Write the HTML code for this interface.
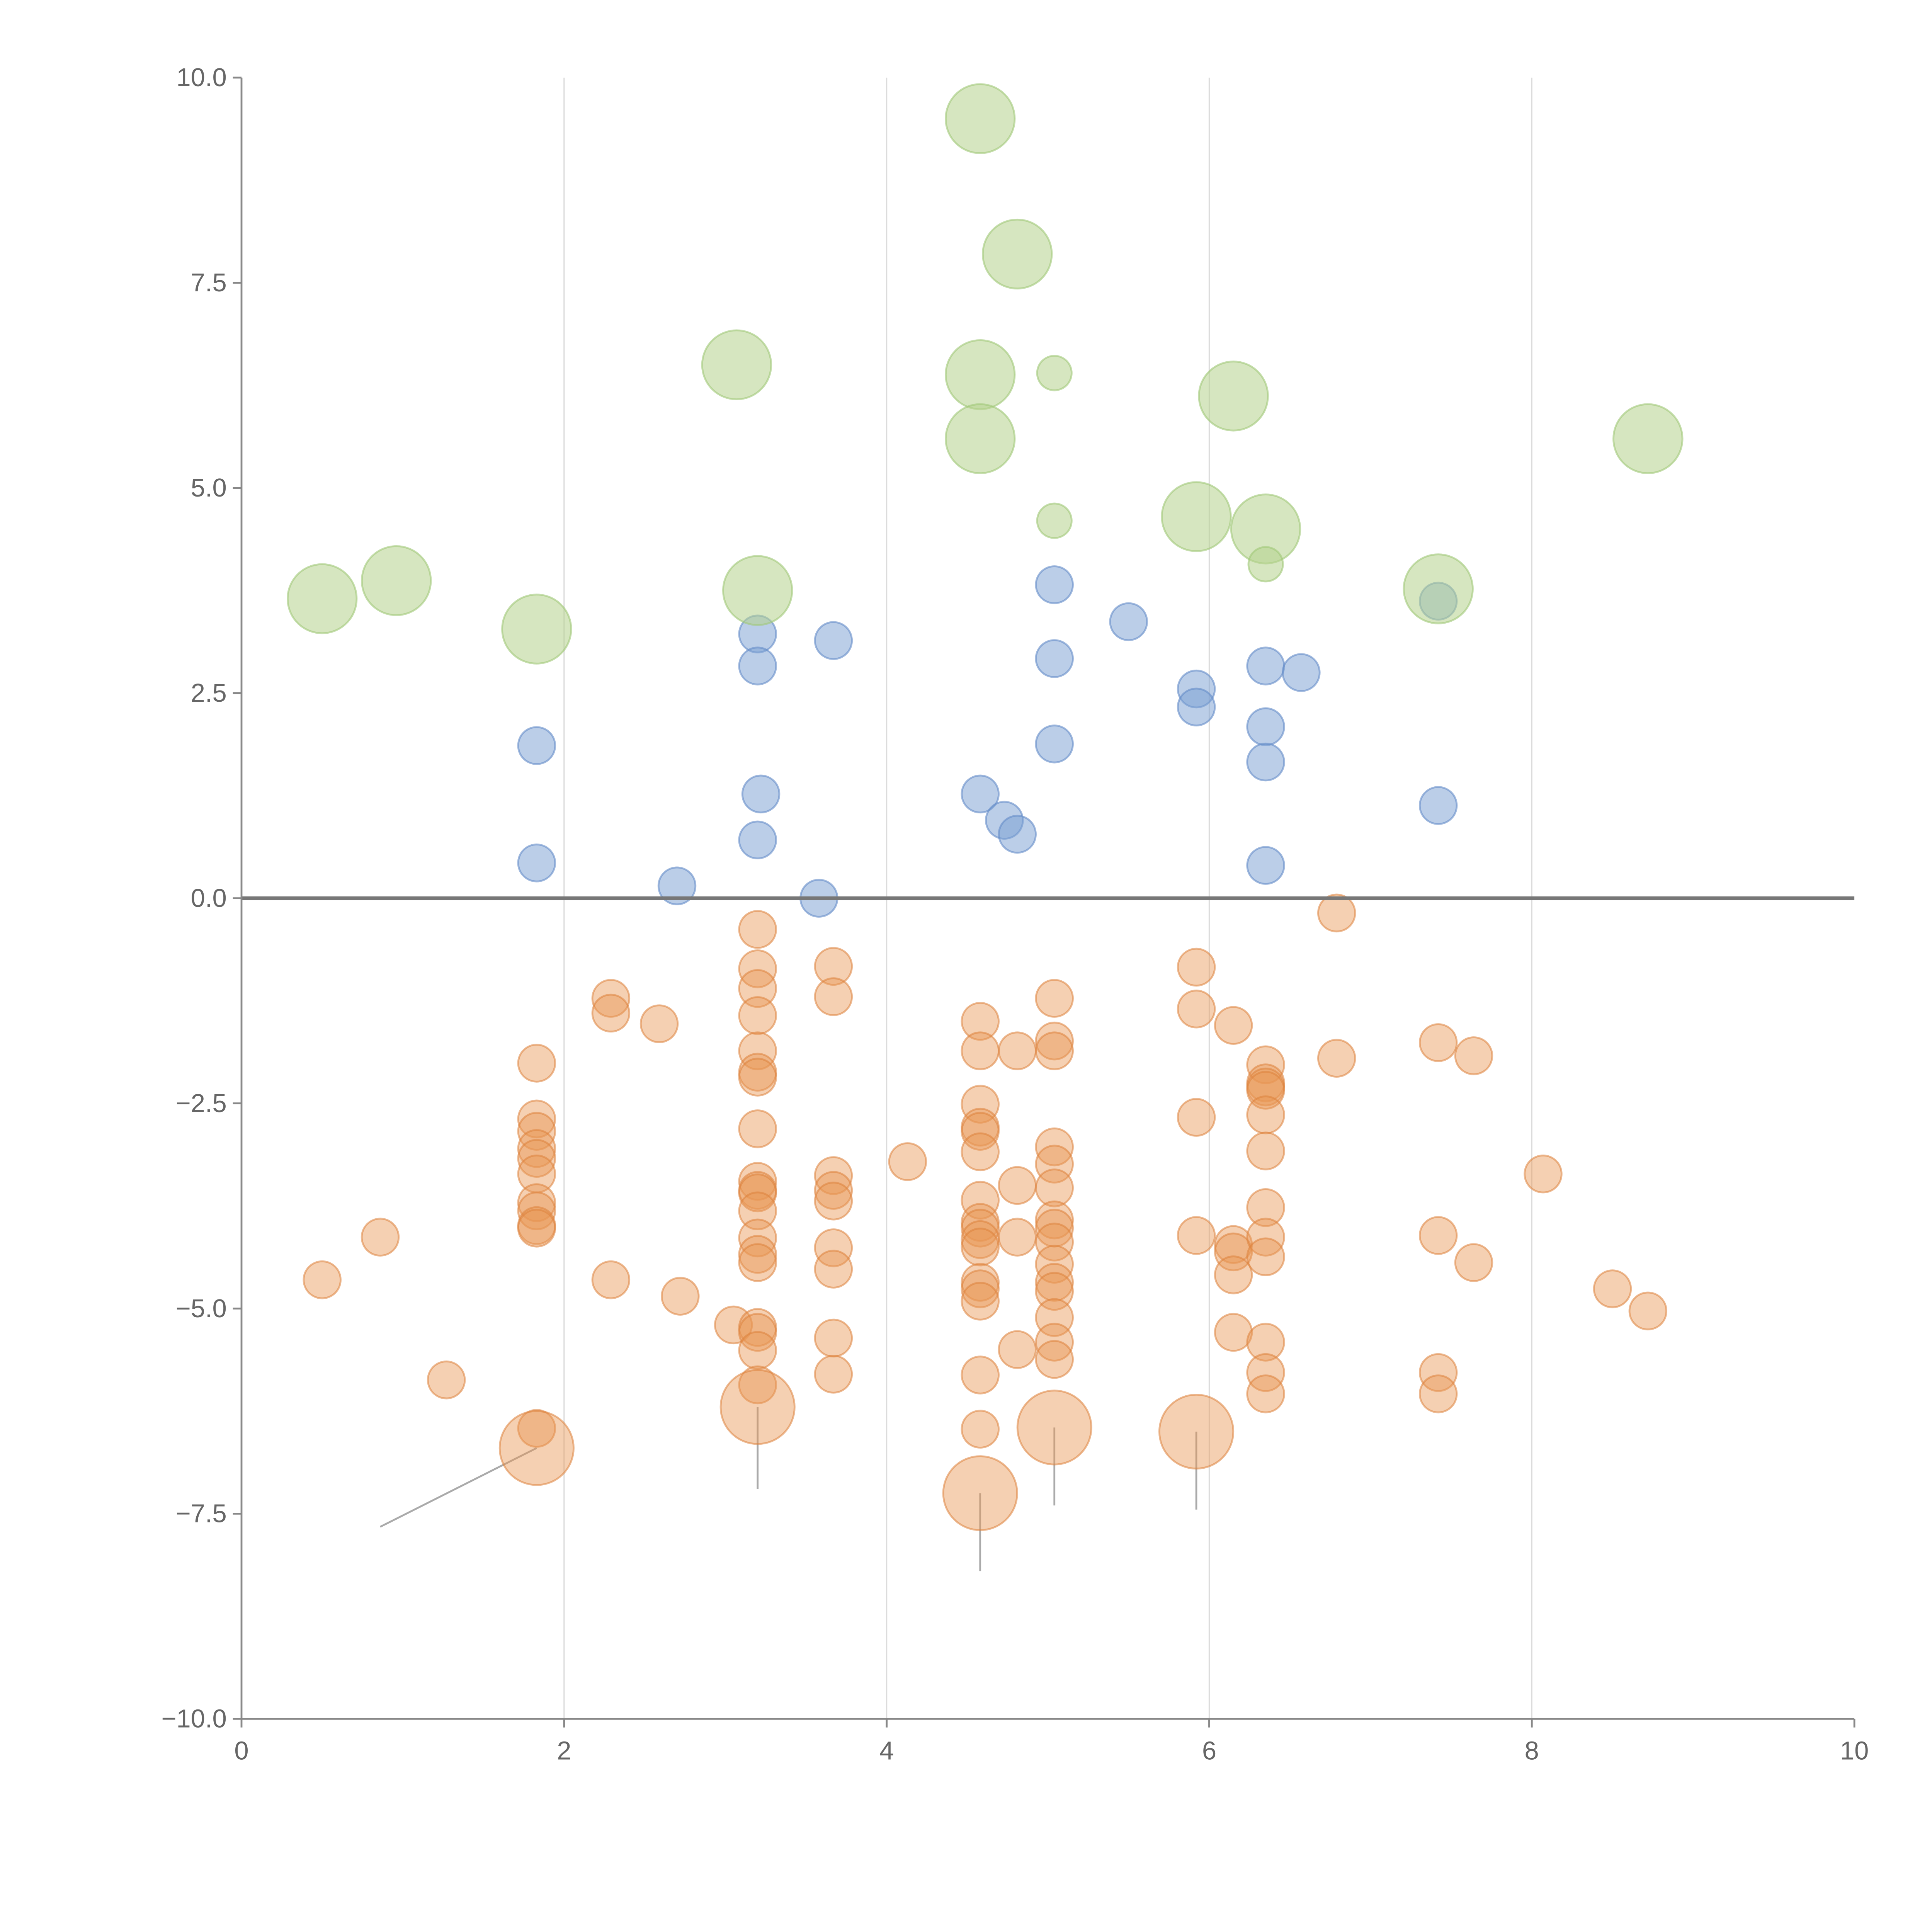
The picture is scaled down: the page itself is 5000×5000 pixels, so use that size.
<!DOCTYPE html>
<html><head><meta charset="utf-8"><style>html,body{margin:0;padding:0;background:#fff}svg{display:block}</style></head>
<body>
<svg id="chart" width="5000" height="5000" viewBox="0 0 1568 1568" xmlns="http://www.w3.org/2000/svg" font-family="Liberation Sans, sans-serif">
<g id="grid"></g>
<g id="marks"></g>
<g id="axes"></g>
</svg>
<script>
const xTicks=[0,2,4,6,8,10];
const yTicks=[10,7.5,5,2.5,0,-2.5,-5,-7.5,-10];
const yTickLabels=["10.0","7.5","5.0","2.5","0.0","\u22122.5","\u22125.0","\u22127.5","\u221210.0"];
const greenX=[0.5,0.96,1.83,3.07,3.2,4.58,4.81,4.58,5.04,4.58,6.15,8.72,5.04,5.92,6.35,6.35,7.42];
const greenY=[3.65,3.87,3.28,6.5,3.75,9.5,7.85,6.38,6.4,5.6,6.12,5.6,4.6,4.65,4.5,4.07,3.77];
const greenR=[28,28,28,28,28,28,28,28,14,28,28,28,14,28,28,14,28];
const blueX=[1.83,1.83,2.7,3.2,3.2,3.22,3.2,3.67,3.58,4.58,4.73,4.81,5.04,5.04,5.04,5.5,5.92,5.92,6.35,6.35,6.35,6.35,6.57,7.42,7.42];
const blueY=[1.86,0.43,0.15,3.22,2.83,1.27,0.71,3.14,0.0,1.27,0.95,0.78,3.82,2.92,1.88,3.37,2.55,2.33,2.83,2.09,1.66,0.4,2.75,3.62,1.13];
const orangeX=[0.5,0.86,1.27,1.83,1.83,1.83,1.83,1.83,1.83,1.83,1.83,1.83,1.83,1.83,2.29,2.29,2.29,2.59,2.72,3.05,
3.2,3.2,3.2,3.2,3.2,3.2,3.2,3.2,3.2,3.2,3.2,3.2,3.2,3.2,3.2,3.2,3.2,3.2,3.2,
3.67,3.67,3.67,3.67,3.67,3.67,3.67,3.67,3.67,4.13,
4.58,4.58,4.58,4.58,4.58,4.58,4.58,4.58,4.58,4.58,4.58,4.58,4.58,4.58,4.58,4.58,
4.81,4.81,4.81,4.81,
5.04,5.04,5.04,5.04,5.04,5.04,5.04,5.04,5.04,5.04,5.04,5.04,5.04,5.04,5.04,
5.92,5.92,5.92,5.92,6.15,6.15,6.15,6.15,6.15,
6.35,6.35,6.35,6.35,6.35,6.35,6.35,6.35,6.35,6.35,6.35,6.35,
6.79,6.79,7.42,7.42,7.42,7.42,7.64,7.64,8.07,8.5,8.72,
1.83,3.2,4.58,5.04,5.92];
const orangeY=[-4.65,-4.13,-5.87,-2.01,-2.69,-2.84,-3.05,-3.17,-3.36,-3.71,-3.81,-3.99,-4.02,-6.46,-1.22,-1.40,-4.65,-1.53,-4.85,-5.2,
-0.38,-0.86,-1.10,-1.43,-1.86,-2.12,-2.18,-2.81,-3.45,-3.56,-3.59,-3.81,-4.14,-4.34,-4.44,-5.23,-5.29,-5.51,-5.93,
-0.83,-1.20,-3.38,-3.56,-3.69,-4.26,-4.52,-5.36,-5.80,-3.21,
-1.50,-1.86,-2.51,-2.79,-2.84,-3.09,-3.68,-3.95,-4.02,-4.16,-4.25,-4.68,-4.76,-4.91,-5.81,-6.47,
-1.86,-3.5,-4.13,-5.5,
-1.22,-1.74,-1.86,-3.03,-3.24,-3.53,-3.92,-4.02,-4.19,-4.46,-4.68,-4.79,-5.11,-5.41,-5.62,
-0.84,-1.35,-2.67,-4.11,-1.55,-4.22,-4.31,-4.59,-5.29,
-2.03,-2.25,-2.3,-2.34,-2.64,-3.08,-3.77,-4.13,-4.37,-5.41,-5.78,-6.04,
-0.18,-1.95,-1.76,-4.11,-5.78,-6.04,-1.92,-4.44,-3.36,-4.76,-5.03,
-6.7,-6.2,-7.25,-6.45,-6.5];
const orangeBig=[1.83,3.2,4.58,5.04,5.92];
const leaderX1=[1.83,3.2,4.58,5.04,5.92];
const leaderY1=[-6.7,-6.2,-7.25,-6.45,-6.5];
const leaderX2=[0.86,3.2,4.58,5.04,5.92];
const leaderY2=[-7.66,-7.2,-8.2,-7.4,-7.45];

const X0=196,X1=1505,Y0=1395,Y1=63;
const sx=v=>X0+(v-0)/(10-0)*(X1-X0);
const sy=v=>Y0-(v+10)/20*(Y0-Y1);
const NS="http://www.w3.org/2000/svg";
function mk(tag,attrs,parent){const e=document.createElementNS(NS,tag);for(const k in attrs)e.setAttribute(k,attrs[k]);parent.appendChild(e);return e;}
const grid=document.getElementById('grid'),marks=document.getElementById('marks'),axes=document.getElementById('axes');
xTicks.forEach(t=>{if(t>0&&t<10){const l=mk('line',{x1:sx(t),x2:sx(t),y1:Y1,y2:Y0,stroke:'#dcdcdc','stroke-width':1},grid);

}});
leaderX1.forEach((v,i)=>{const l=mk('line',{x1:sx(v),y1:sy(leaderY1[i]),x2:sx(leaderX2[i]),y2:sy(leaderY2[i]),stroke:'#aaa','stroke-width':1.5},marks);

});
orangeX.forEach((v,i)=>{const big=i>=orangeX.length-orangeBig.length;const c=mk('circle',{cx:sx(v),cy:sy(orangeY[i]),r:big?30:15,fill:'rgba(232,150,85,0.45)',stroke:'rgba(220,130,60,0.55)','stroke-width':1.5},marks);

});
blueX.forEach((v,i)=>{const c=mk('circle',{cx:sx(v),cy:sy(blueY[i]),r:15,fill:'rgba(120,158,210,0.5)',stroke:'rgba(100,140,200,0.6)','stroke-width':1.5},marks);

});
greenX.forEach((v,i)=>{const c=mk('circle',{cx:sx(v),cy:sy(greenY[i]),r:greenR[i],fill:'rgba(180,210,140,0.55)',stroke:'rgba(160,200,120,0.6)','stroke-width':1.5},marks);

});
const z=mk('line',{x1:X0,x2:X1,y1:sy(0),y2:sy(0),stroke:'#777','stroke-width':3},axes);


const ya=mk('line',{x1:X0,x2:X0,y1:Y1,y2:Y0,stroke:'#888','stroke-width':1.5},axes);


const xa=mk('line',{x1:X0,x2:X1,y1:Y0,y2:Y0,stroke:'#888','stroke-width':1.5},axes);


xTicks.forEach(t=>{mk('line',{x1:sx(t),x2:sx(t),y1:Y0,y2:Y0+7,stroke:'#888','stroke-width':1.5},axes);
const tx=mk('text',{x:sx(t),y:Y0+33,'text-anchor':'middle','font-size':21,fill:'#666'},axes);tx.textContent=t;

});
yTicks.forEach((t,i)=>{mk('line',{x1:X0-7,x2:X0,y1:sy(t),y2:sy(t),stroke:'#888','stroke-width':1.5},axes);
const tx=mk('text',{x:X0-12,y:sy(t)+7,'text-anchor':'end','font-size':21,fill:'#666'},axes);tx.textContent=yTickLabels[i];

});
</script>
</body></html>
